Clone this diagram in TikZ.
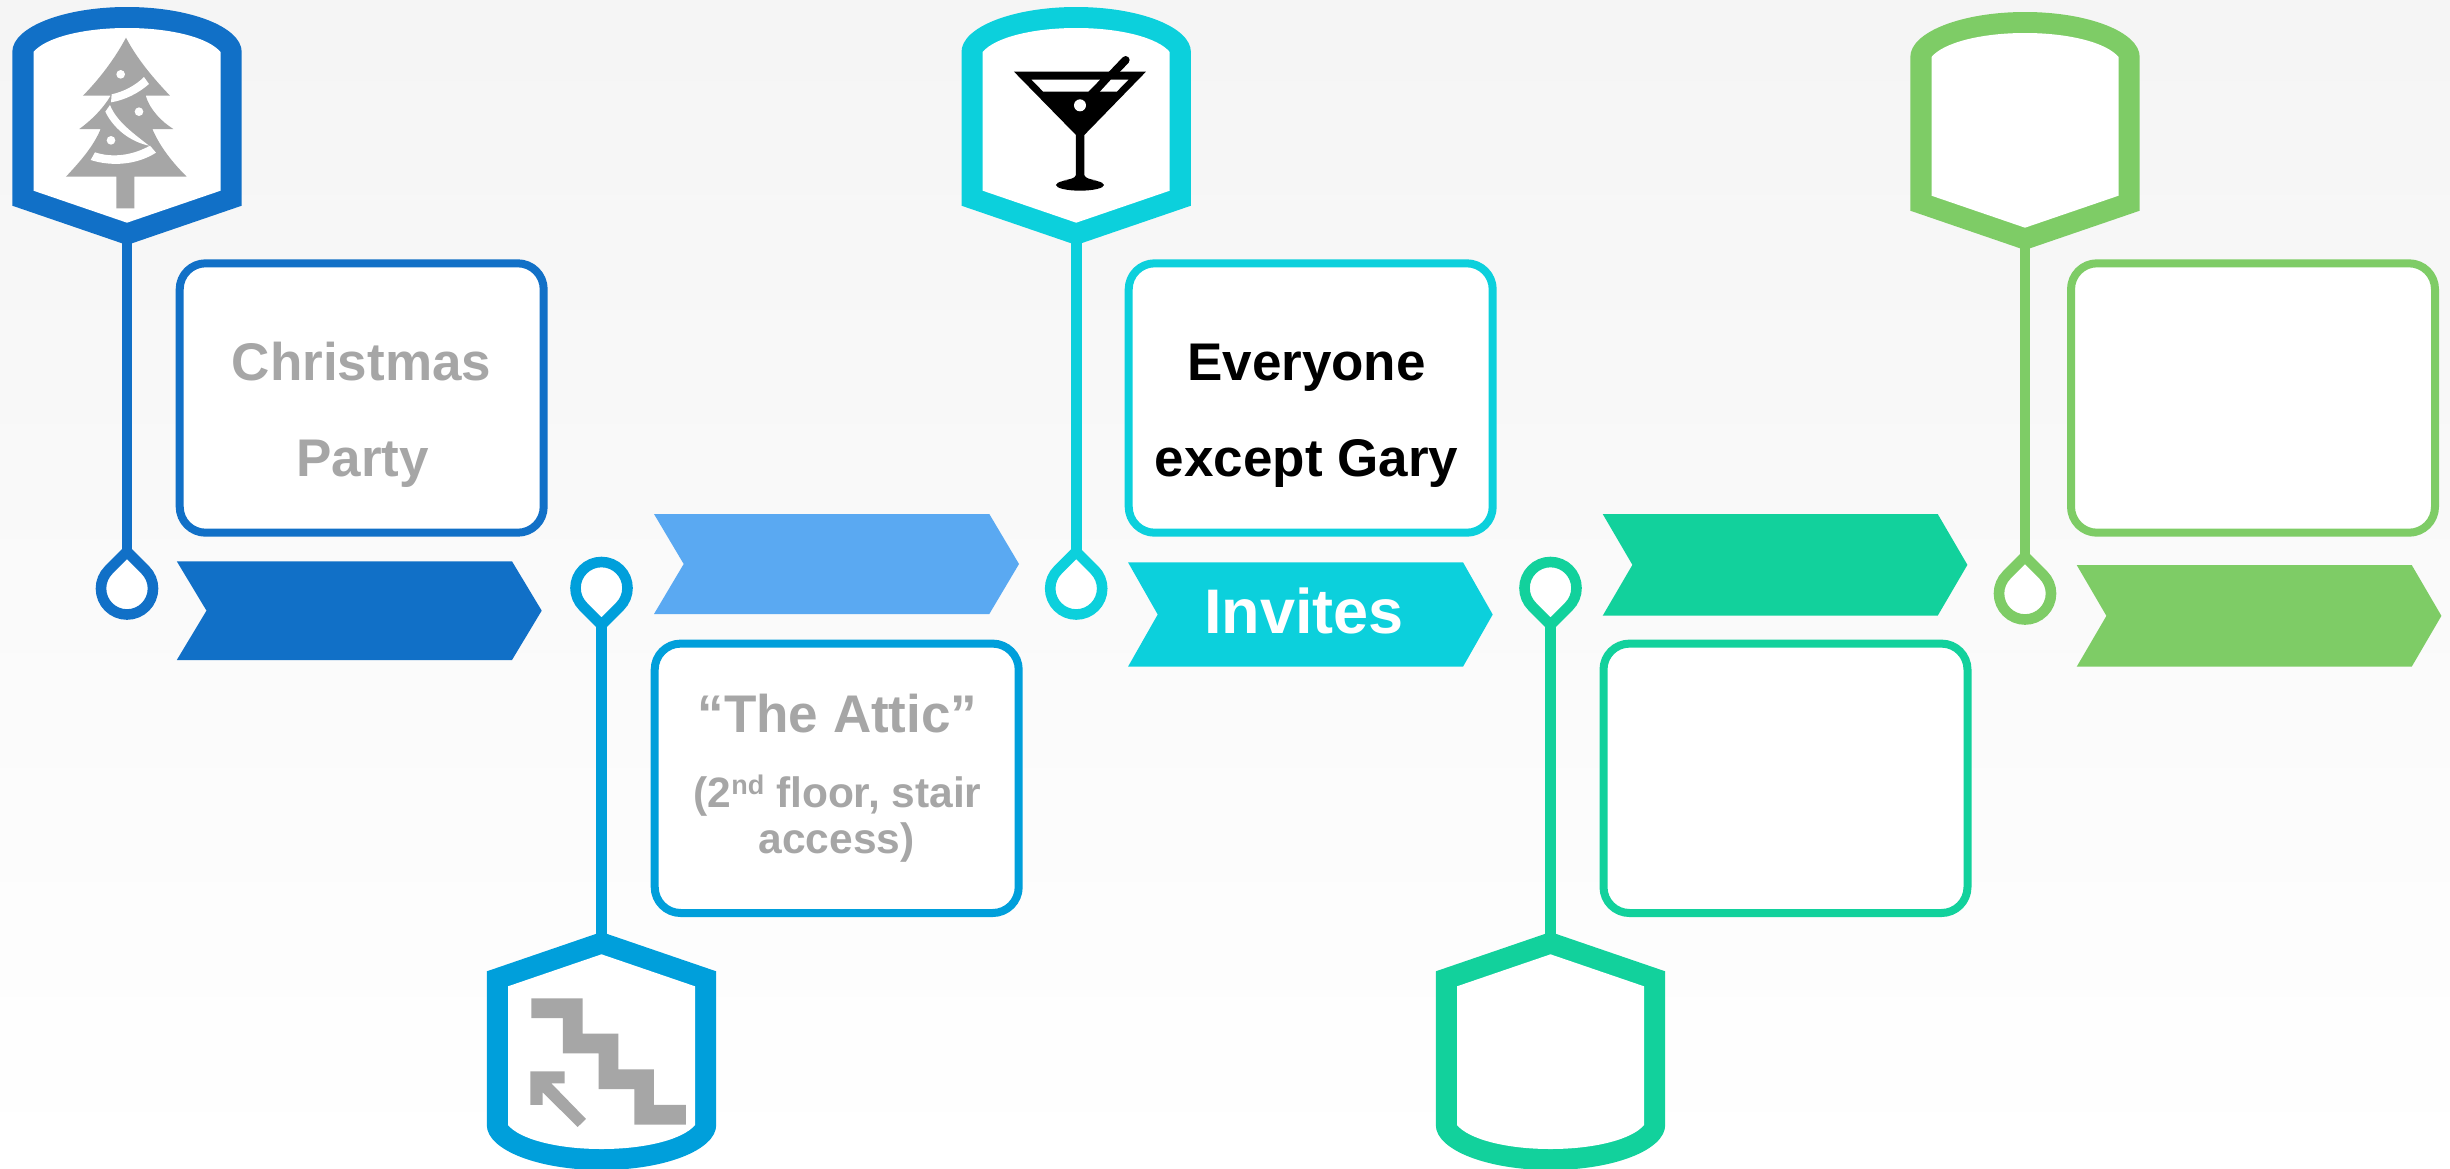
\documentclass[tikz,border=0pt]{standalone}
\usepackage{fontspec}
\setmainfont{Liberation Sans}
\definecolor{cblue}{HTML}{1170C7}
\definecolor{cbluetwo}{HTML}{009FDB}
\definecolor{clight}{HTML}{5AA9F2}
\definecolor{ccyan}{HTML}{0CD0DC}
\definecolor{cteal}{HTML}{12D19C}
\definecolor{cgreen}{HTML}{7ECC66}
\definecolor{cgray}{HTML}{A6A6A6}
\tikzset{
  stem/.style={line width=10.6pt},
  dropshape/.style={line width=10.6pt,fill=white,miter limit=10},
  infobox/.style={draw,fill=white,line width=8pt,rounded corners=26pt,outer sep=0pt,inner sep=0pt,minimum width=364pt,minimum height=269.4pt},
  bigtxt/.style={font=\fontsize{53}{60}\selectfont\bfseries,anchor=base,inner sep=0pt,outer sep=0pt},
  smalltxt/.style={font=\fontsize{42.5}{48}\selectfont\bfseries,anchor=base,inner sep=0pt,outer sep=0pt},
  chevtxt/.style={font=\fontsize{63}{70}\selectfont\bfseries,anchor=base,inner sep=0pt,outer sep=0pt},
}
% colour, options of the scope
\newcommand{\myshield}[2]{%
  \begin{scope}[#2]
    \fill[#1] (-114.7,52) .. controls (-114.7,27.1) and (-63.3,7) .. (0,7)
      .. controls (63.3,7) and (114.7,27.1) .. (114.7,52)
      -- (114.7,205.7) -- (0,245) -- (-114.7,205.7) -- cycle;
    \fill[white] (-93.5,52) .. controls (-82,38) and (-45,28) .. (0,28)
      .. controls (45,28) and (82,38) .. (93.5,52)
      -- (93.5,190.7) -- (0,222.7) -- (-93.5,190.7) -- cycle;
  \end{scope}}
% colour, x, y, direction (1 = apex up, -1 = apex down)
\newcommand{\mydrop}[4]{%
  \begin{scope}[shift={(#2,#3)},yscale=#4]
    \draw[#1,dropshape] (0,-36.8) -- (-18.4,-18.4)
      .. controls (-23.28,-13.52) and (-26,-6.9) .. (-26,0)
      .. controls (-26,14.36) and (-14.36,26) .. (0,26)
      .. controls (14.36,26) and (26,14.36) .. (26,0)
      .. controls (26,-6.9) and (23.28,-13.52) .. (18.4,-18.4) -- cycle;
  \end{scope}}
% name, colour, left, base of tip, top, bottom
\newcommand{\mychev}[6]{%
  \fill[#2] (#3,#5) -- (#4,#5) -- ({#4+29.7},{(#5+#6)/2}) -- (#4,#6) -- (#3,#6) -- ({#3+29.7},{(#5+#6)/2}) -- cycle;
  \coordinate (#1) at ({(#3+#4)/2+15},{(#5+#6)/2});}
\begin{document}
\begin{tikzpicture}[x=1pt,y=-1pt]
\useasboundingbox (0,0) rectangle (2450,1168);
\fill[top color=black!4,bottom color=white] (0,0) rectangle (2450,1168);

% anchors of the stems
\coordinate (s1) at (127,235);      \coordinate (d1) at (127,552);
\coordinate (s2) at (601.5,942);    \coordinate (d2) at (601.5,625);
\coordinate (s3) at (1076.2,235);   \coordinate (d3) at (1076.2,552);
\coordinate (s4) at (1550.5,942);   \coordinate (d4) at (1550.5,625);
\coordinate (s5) at (2025,240);     \coordinate (d5) at (2025,557);

\draw[stem,cblue] (s1) -- (d1);
\draw[stem,cbluetwo] (s2) -- (d2);
\draw[stem,ccyan] (s3) -- (d3);
\draw[stem,cteal] (s4) -- (d4);
\draw[stem,cgreen] (s5) -- (d5);

\mydrop{cblue}{127}{588.5}{1}
\mydrop{cbluetwo}{601.5}{588}{-1}
\mydrop{ccyan}{1076.2}{588.5}{1}
\mydrop{cteal}{1550.5}{588}{-1}
\mydrop{cgreen}{2025}{593.5}{1}

\myshield{cblue}{shift={(127,0)}}
\myshield{cbluetwo}{shift={(601.5,1177)},yscale=-1}
\myshield{ccyan}{shift={(1076.2,0)}}
\myshield{cteal}{shift={(1550.5,1177)},yscale=-1}
\myshield{cgreen}{shift={(2025,5)}}

% tree icon
\begin{scope}[x=.33333pt,y=-.33333pt]
  \fill[cgray] (378,113) .. controls (410,175) and (460,235) .. (510,287) -- (437,287)
    .. controls (450,330) and (485,365) .. (520,387) -- (457,387)
    .. controls (480,440) and (515,485) .. (560,530) -- (403,530) -- (403,625) -- (349,625) -- (349,530) -- (198,530)
    .. controls (240,485) and (280,440) .. (302,387) -- (238,387)
    .. controls (275,360) and (310,325) .. (332,287) -- (249,287)
    .. controls (300,235) and (345,175) .. (378,113) -- cycle;
  \fill[white] (335,283) .. controls (370,275) and (405,258) .. (432,231) -- (447,252)
    .. controls (415,280) and (375,300) .. (333,307) -- cycle;
  \fill[white] (330,315) .. controls (350,365) and (400,400) .. (447,437)
    .. controls (390,425) and (340,385) .. (316,335) -- cycle;
  \fill[white] (285,457) .. controls (340,475) and (400,465) .. (450,437) -- (468,458)
    .. controls (410,495) and (335,500) .. (272,480) -- cycle;
  \fill[white] (362,223) circle (13);
  \fill[white] (417,335) circle (13);
  \fill[white] (333,421) circle (13);
\end{scope}

% martini icon
\begin{scope}[x=.33333pt,y=-.33333pt,shift={(2820,0)}]
  \draw[black,line width=8pt,line cap=round] (557,180) -- (495,245);
  \fill[black] (222,215) -- (618,215) -- (433,405) -- (433,525)
    .. controls (436,535) and (450,538) .. (470,541) -- (370,541)
    .. controls (390,538) and (405,535) .. (408,525) -- (408,405) -- cycle;
  \fill[black] (420,555) ellipse (72 and 17);
  \fill[white] (275,239) -- (480,239) -- (445,275) -- (310,275) -- cycle;
  \fill[white] (513,239) -- (565,239) -- (530,275) -- (480,275) -- cycle;
  \fill[white] (420,316) circle (18);
\end{scope}

% stairs icon
\begin{scope}[x=.33333pt,y=-.33333pt,shift={(1410,2790)}]
  \fill[cgray] (184,205) -- (338,205) -- (338,311) -- (445,311) -- (445,418) -- (552,418) -- (552,525) -- (648,525) -- (648,584) -- (493,584) -- (493,477) -- (386,477) -- (386,370) -- (279,370) -- (279,264) -- (184,264) -- cycle;
  \fill[cgray] (181,424) -- (284,424) -- (284,460) -- (244,460) -- (348,567) -- (323,591) -- (218,487) -- (218,525) -- (181,525) -- cycle;
\end{scope}

% boxes
\node[infobox,draw=cblue] (box1) at (361.7,398) {};
\node[infobox,draw=cbluetwo] (box2) at (836.7,778.3) {};
\node[infobox,draw=ccyan] (box3) at (1310.7,398) {};
\node[infobox,draw=cteal] (box4) at (1785.5,778.3) {};
\node[infobox,draw=cgreen] (box5) at (2253,398) {};

% chevrons
\mychev{c1}{cblue}{176.8}{512}{561.3}{660}
\mychev{c2}{clight}{654}{989.3}{514}{614}
\mychev{c3}{ccyan}{1128}{1463}{562.3}{666.7}
\mychev{c4}{cteal}{1602.7}{1937.7}{514}{615.7}
\mychev{c5}{cgreen}{2076.7}{2411.7}{565}{666.7}

% texts
\node[bigtxt,text=cgray] (t1) at (361.5,380) {Christmas};
\node[bigtxt,text=cgray] (t2) at (362.5,476.5) {Party};
\node[bigtxt,text=cgray] (t3) at (837.5,732) {“The Attic”};
\node[smalltxt,text=cgray] (t4) at (837.5,807) {(2\raisebox{13pt}{\fontsize{27}{30}\selectfont nd} floor, stair};
\node[smalltxt,text=cgray] (t5) at (836.5,853) {access)};
\node[bigtxt,text=black] (t6) at (1306.5,380) {Everyone};
\node[bigtxt,text=black] (t7) at (1306.5,476.5) {except Gary};
\node[chevtxt,text=white] (t8) at (1303.8,633) {Invites};
\end{tikzpicture}
\end{document}
